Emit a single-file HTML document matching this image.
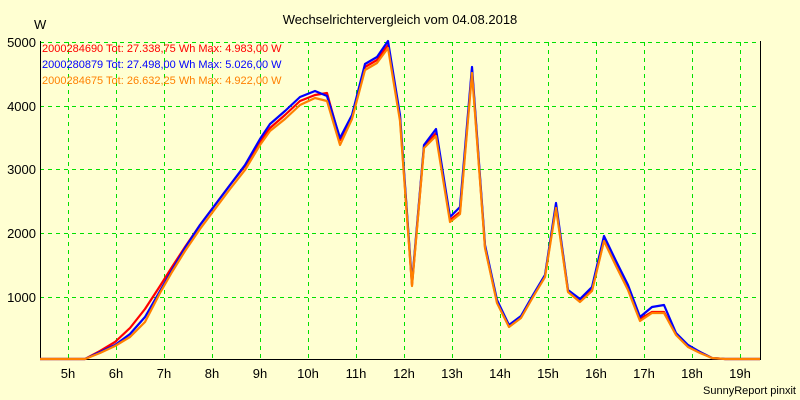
<!DOCTYPE html>
<html><head><meta charset="utf-8"><style>
html,body{margin:0;padding:0;background:#FFFFD2;}
svg{display:block;font-family:"Liberation Sans",sans-serif;}
</style></head><body>
<svg width="800" height="400" viewBox="0 0 800 400">
<rect width="800" height="400" fill="#FFFFD2"/>
<text x="400" y="24" font-size="13" text-anchor="middle" fill="#000">Wechselrichtervergleich vom 04.08.2018</text>
<text x="34" y="29" font-size="13">W</text>
<g font-size="13" text-anchor="end">
<text x="36" y="47">5000</text><text x="36" y="111">4000</text><text x="36" y="174">3000</text><text x="36" y="238">2000</text><text x="36" y="302">1000</text>
</g>
<g stroke="#00E000" stroke-dasharray="4,4" stroke-width="1" shape-rendering="crispEdges">
<line x1="40" y1="42.5" x2="760" y2="42.5"/><line x1="40" y1="106.5" x2="760" y2="106.5"/><line x1="40" y1="169.5" x2="760" y2="169.5"/><line x1="40" y1="233.5" x2="760" y2="233.5"/><line x1="40" y1="297.5" x2="760" y2="297.5"/>
<line x1="68.5" y1="42" x2="68.5" y2="359"/><line x1="116.5" y1="42" x2="116.5" y2="359"/><line x1="164.5" y1="42" x2="164.5" y2="359"/><line x1="212.5" y1="42" x2="212.5" y2="359"/><line x1="260.5" y1="42" x2="260.5" y2="359"/><line x1="308.5" y1="42" x2="308.5" y2="359"/><line x1="356.5" y1="42" x2="356.5" y2="359"/><line x1="404.5" y1="42" x2="404.5" y2="359"/><line x1="452.5" y1="42" x2="452.5" y2="359"/><line x1="500.5" y1="42" x2="500.5" y2="359"/><line x1="548.5" y1="42" x2="548.5" y2="359"/><line x1="596.5" y1="42" x2="596.5" y2="359"/><line x1="644.5" y1="42" x2="644.5" y2="359"/><line x1="692.5" y1="42" x2="692.5" y2="359"/><line x1="740.5" y1="42" x2="740.5" y2="359"/>
</g>
<polyline fill="none" stroke="#000" stroke-width="1" points="40.5,41 40.5,359.5 760.5,359.5 760.5,41"/>
<g font-size="13" text-anchor="middle">
<text x="68" y="378">5h</text><text x="116" y="378">6h</text><text x="164" y="378">7h</text><text x="212" y="378">8h</text><text x="260" y="378">9h</text><text x="308" y="378">10h</text><text x="356" y="378">11h</text><text x="404" y="378">12h</text><text x="452" y="378">13h</text><text x="500" y="378">14h</text><text x="548" y="378">15h</text><text x="596" y="378">16h</text><text x="644" y="378">17h</text><text x="692" y="378">18h</text><text x="740" y="378">19h</text>
</g>
<text x="796" y="394" font-size="11" text-anchor="end">SunnyReport pinxit</text>
<g fill="none" stroke-width="2.2" stroke-linejoin="round">
<polyline stroke="#FF0000" points="40,359 85,359 100,351 115,342 130,328 145,309 160,286 172,267 185,247 200,225 215,205 230,185 245,166 260,142 270,128 285,115 300,101 315,95 327,93 340,140 352,117 365,67 377,60 388,45 400,118 412,285 424,147 436,133 450,220 460,212 472,70 485,247 497,302 509,326 521,317 533,296 545,276 556,206 568,291 580,301 592,290 604,240 616,265 628,288 640,319 652,312 664,312 676,334 688,346 700,352 712,358 725,359 760,359"/>
<polyline stroke="#0000FF" points="40,359 85,359 100,352 115,345 130,334 145,317 160,291 172,270 185,248 200,225 215,205 230,185 245,165 260,139 270,124 285,111 300,97 315,91 327,96 340,138 352,115 365,64 377,57 388,41 400,115 412,283 424,145 436,129 450,217 460,207 472,67 485,245 497,300 509,325 521,316 533,295 545,275 556,203 568,290 580,299 592,287 604,236 616,261 628,285 640,317 652,307 664,305 676,333 688,345 700,352 712,358 725,359 760,359"/>
<polyline stroke="#FF8000" points="40,359 85,359 100,353 115,346 130,337 145,322 160,293 172,272 185,251 200,229 215,209 230,189 245,170 260,145 270,131 285,119 300,105 315,98 327,101 340,145 352,119 365,70 377,63 388,48 400,121 412,286 424,148 436,136 450,222 460,214 472,73 485,248 497,303 509,327 521,318 533,297 545,277 556,208 568,292 580,302 592,291 604,241 616,266 628,290 640,321 652,313 664,313 676,335 688,347 700,353 712,358 725,359 760,359"/>
</g>
<g font-size="11">
<text x="42" y="52" fill="#FF0000">2000284690 Tot: 27.338,75 Wh Max: 4.983,00 W</text>
<text x="42" y="68" fill="#0000FF">2000280879 Tot: 27.498,00 Wh Max: 5.026,00 W</text>
<text x="42" y="84" fill="#FF8000">2000284675 Tot: 26.632,25 Wh Max: 4.922,00 W</text>
</g>
</svg>
</body></html>
